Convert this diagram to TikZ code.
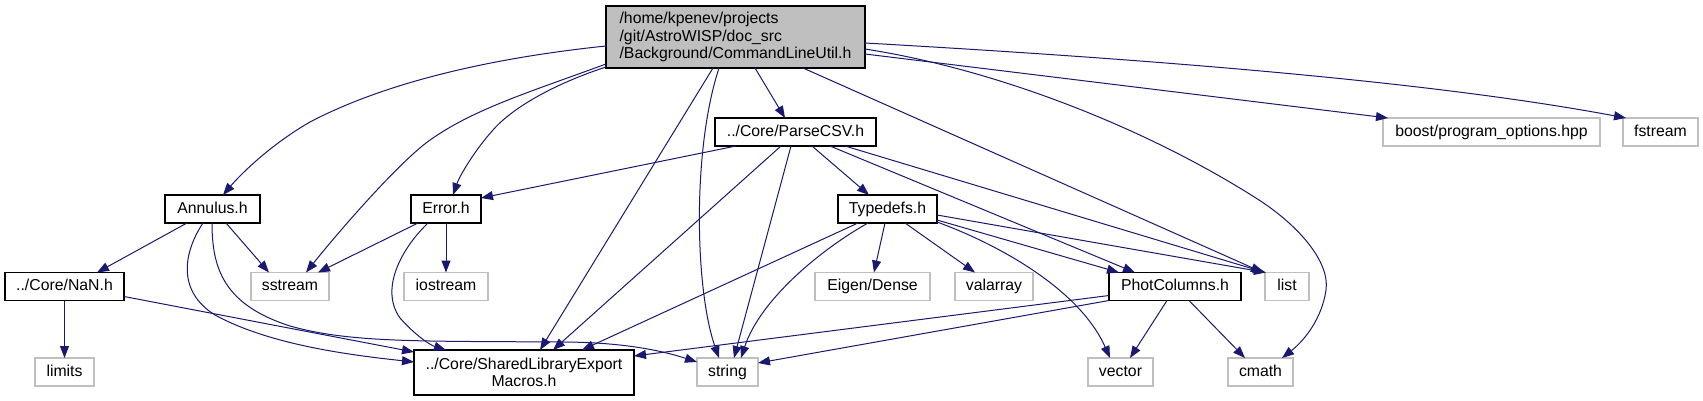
\documentclass[tikz,border=0pt]{standalone}
\usepackage{fontspec}
\setmainfont{Liberation Sans}
\usetikzlibrary{arrows.meta}
\definecolor{edgecol}{HTML}{191970}
\definecolor{sysgray}{HTML}{BFBFBF}
\begin{document}
\begin{tikzpicture}[x=1pt,y=-1pt,
  box/.style={rectangle, inner sep=0pt, outer sep=0pt, minimum height=28pt, line width=1.2pt, fill=white,
    font=\fontsize{15.8}{17.3}\selectfont, text=black},
  one/.style={text height=11.4pt, text depth=3.3pt},
  doc/.style={box, draw=black},
  sys/.style={box, draw=sysgray},
  edge/.style={draw=edgecol, line width=1pt, -{Triangle[length=12pt,width=9pt]}}]
\fill[white] (0,0) rectangle (1703,401);
\useasboundingbox (0,0) rectangle (1703,401);

\node[doc, fill=sysgray, minimum width=259pt, minimum height=62pt, align=left] (main) at (735.5,37) {/home/kpenev/projects\\/git/AstroWISP/doc\_src\\/Background/CommandLineUtil.h};
\node[doc, one, minimum width=161pt] (parse) at (795.5,132) {../Core/ParseCSV.h};
\node[sys, one, minimum width=217pt] (boost) at (1491.5,132) {boost/program\_options.hpp};
\node[sys, one, minimum width=75pt] (fstream) at (1660.5,132) {fstream};
\node[doc, one, minimum width=95pt] (annulus) at (212.5,209) {Annulus.h};
\node[doc, one, minimum width=70pt] (error) at (446,209) {Error.h};
\node[doc, one, minimum width=99pt] (typedefs) at (887.5,209) {Typedefs.h};
\node[doc, one, minimum width=119pt] (nan) at (64.5,286.5) {../Core/NaN.h};
\node[sys, one, minimum width=78pt] (sstream) at (290,286.5) {sstream};
\node[sys, one, minimum width=84pt] (iostream) at (446,286.5) {iostream};
\node[sys, one, minimum width=115pt] (eigen) at (872.5,286.5) {Eigen/Dense};
\node[sys, one, minimum width=78pt] (valarray) at (994,286.5) {valarray};
\node[doc, one, minimum width=132pt] (phot) at (1175,286.5) {PhotColumns.h};
\node[sys, one, minimum width=44pt] (list) at (1287,286.5) {list};
\node[sys, one, minimum width=59pt] (limits) at (64.5,372) {limits};
\node[doc, minimum width=220pt, minimum height=45pt, align=center] (shared) at (524,372.5) {../Core/SharedLibraryExport\\Macros.h};
\node[sys, one, minimum width=61pt] (string) at (727.5,372) {string};
\node[sys, one, minimum width=65pt] (vector) at (1120.5,372) {vector};
\node[sys, one, minimum width=65pt] (cmath) at (1260.5,372) {cmath};

% from main
\draw[edge] ([yshift=-40pt]main.north west) .. controls (500,57) and (390,80) .. (310,122) .. controls (270,145) and (240,175) .. ([xshift=58pt]annulus.north west);
\draw[edge] ([yshift=-58pt]main.north west) .. controls (530,92) and (470,110) .. (426,143) .. controls (395,167) and (340,230) .. ([xshift=55pt]sstream.north west);
\draw[edge] ([yshift=-61pt]main.north west) .. controls (560,82) and (515,105) .. (493,130) .. controls (475,150) and (460,175) .. ([xshift=42pt]error.north west);
\draw[edge] ([xshift=107pt]main.south west) -- ([xshift=126pt]shared.north west);
\draw[edge] ([xshift=113pt]main.south west) .. controls (692,150) and (695,290) .. ([xshift=22pt]string.north west);
\draw[edge] ([xshift=149pt]main.south west) -- ([xshift=70pt]parse.north west);
\draw[edge] ([xshift=197pt]main.south west) -- ([xshift=-2pt]list.north west);
\draw[edge] ([yshift=-43pt]main.north east) .. controls (1000,70) and (1150,130) .. (1259,200) .. controls (1299,226) and (1330,262) .. (1326,290) .. controls (1322,318) and (1305,340) .. ([xshift=54pt]cmath.north west);
\draw[edge] ([yshift=-48pt]main.north east) -- ([xshift=5pt]boost.north west);
\draw[edge] ([yshift=-37pt]main.north east) .. controls (1200,62) and (1450,85) .. ([xshift=3pt]fstream.north west);
% from ParseCSV
\draw[edge] ([xshift=21pt]parse.south west) -- ([yshift=-3pt]error.north east);
\draw[edge] ([xshift=66pt]parse.south west) -- ([xshift=139pt]shared.north west);
\draw[edge] ([xshift=76pt]parse.south west) -- ([xshift=37pt]string.north west);
\draw[edge] ([xshift=97pt]parse.south west) -- ([xshift=31pt]typedefs.north west);
\draw[edge] ([xshift=115pt]parse.south west) -- ([xshift=26pt]phot.north west);
\draw[edge] ([xshift=130pt]parse.south west) -- (list.north west);
% from Annulus
\draw[edge] ([xshift=22pt]annulus.south west) -- ([xshift=92pt]nan.north west);
\draw[edge] ([xshift=61pt]annulus.south west) -- ([xshift=18pt]sstream.north west);
\draw[edge] ([xshift=38pt]annulus.south west) .. controls (185,250) and (175,290) .. (215,315) .. controls (270,345) and (350,355) .. ([yshift=-12pt]shared.north west);
\draw[edge] ([xshift=47pt]annulus.south west) .. controls (212,270) and (225,305) .. (290,326) .. controls (350,343) and (420,341) .. (560,342) .. controls (620,342) and (660,350) .. ([yshift=-4pt]string.north west);
% from NaN
\draw[edge] (nan.south) -- (limits.north);
\draw[edge] ([yshift=-24pt]nan.north east) -- ([yshift=-2pt]shared.north west);
% from Error
\draw[edge] ([xshift=7pt]error.south west) -- ([xshift=67pt]sstream.north west);
\draw[edge] (error.south) -- (iostream.north);
\draw[edge] ([xshift=17pt]error.south west) .. controls (400,250) and (380,290) .. (400,318) .. controls (415,335) and (430,345) .. ([xshift=32pt]shared.north west);
% from Typedefs
\draw[edge] ([xshift=20pt]typedefs.south west) -- ([xshift=168pt]shared.north west);
\draw[edge] ([xshift=30pt]typedefs.south west) .. controls (820,250) and (760,300) .. ([xshift=44pt]string.north west);
\draw[edge] ([xshift=47pt]typedefs.south west) -- ([xshift=59pt]eigen.north west);
\draw[edge] ([xshift=67pt]typedefs.south west) -- ([xshift=20pt]valarray.north west);
\draw[edge] ([yshift=-27pt]typedefs.north east) .. controls (1000,245) and (1080,290) .. ([xshift=22pt]vector.north west);
\draw[edge] ([yshift=-25pt]typedefs.north east) -- ([xshift=10pt]phot.north west);
\draw[edge] ([yshift=-20pt]typedefs.north east) -- ([xshift=1pt]list.north west);
% from PhotColumns
\draw[edge] ([yshift=-23pt]phot.north west) -- ([yshift=-6pt]shared.north east);
\draw[edge] (phot.south west) -- ([yshift=-5pt]string.north east);
\draw[edge] ([xshift=58pt]phot.south west) -- ([xshift=42pt]vector.north west);
\draw[edge] ([xshift=80pt]phot.south west) -- ([xshift=17pt]cmath.north west);
\end{tikzpicture}
\end{document}
